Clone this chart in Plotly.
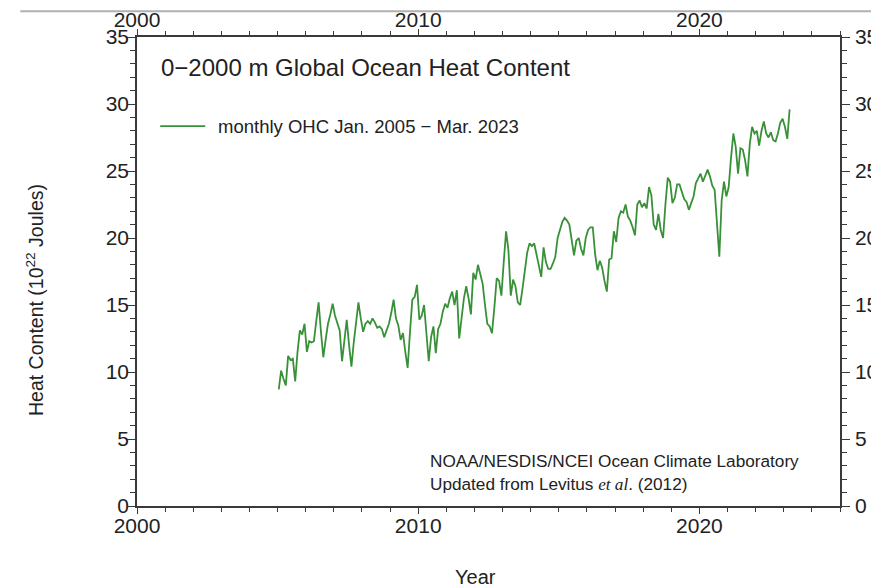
import plotly.graph_objects as go

start_year = 2005
ohc = [
    8.7, 10.1, 9.5, 9.0, 11.2, 10.9, 11.0, 9.3, 11.5, 13.1, 12.8, 13.6,
    11.5, 12.3, 12.2, 12.3, 13.8, 15.2, 13.0, 11.1, 12.4, 13.6, 14.3, 15.1,
    14.2, 13.6, 13.1, 10.8, 12.3, 13.9, 12.0, 10.4, 12.2, 13.8, 15.2, 14.0,
    13.0, 13.6, 13.8, 13.6, 14.0, 13.7, 13.3, 13.4, 13.2, 12.6, 13.1, 13.6,
    14.4, 15.4, 14.0, 13.5, 12.4, 12.9, 11.5, 10.3, 13.0, 15.4, 15.6, 16.5,
    13.9, 14.2, 15.0, 12.8, 10.8, 12.6, 13.4, 11.4, 13.2, 13.6, 14.5, 15.1,
    14.8, 15.5, 16.0, 15.0, 16.1, 12.5, 14.2, 15.5, 16.4, 15.5, 14.3, 17.4,
    16.9, 18.0, 17.3, 16.6, 15.0, 13.6, 13.4, 12.9, 14.8, 17.0, 16.8, 15.7,
    18.2, 20.5, 19.1, 15.7, 16.9, 16.4, 15.2, 15.0, 16.2, 17.8, 18.9, 19.6,
    19.4, 19.6, 18.8, 18.0, 17.1, 19.3, 18.2, 17.7, 17.7, 18.1, 18.6, 20.0,
    20.7, 21.2, 21.5, 21.3, 21.0, 19.8, 18.7, 19.8, 20.0, 19.2, 18.7, 20.0,
    20.6, 20.8, 20.8, 18.8, 17.6, 18.3, 17.8, 16.8, 16.0, 18.4, 18.5, 20.5,
    19.7, 21.5, 22.0, 21.9, 22.5, 21.6, 21.3, 20.8, 20.2, 22.5, 22.8, 22.3,
    22.6, 22.2, 23.8, 23.2, 21.0, 20.6, 21.8, 20.6, 20.0, 22.5, 24.5, 24.2,
    22.6, 23.0, 24.0, 24.0, 23.4, 22.9, 22.7, 22.1, 22.6, 23.1, 24.1, 24.5,
    24.8, 24.2, 24.6, 25.1, 24.6, 23.9, 23.6, 21.0, 18.6, 22.8, 24.2, 23.1,
    23.8, 26.0, 27.8, 26.8, 24.8, 26.7, 26.6, 25.8, 24.6, 27.0, 28.3, 27.8,
    28.0, 26.9, 28.0, 28.7, 27.8, 27.5, 27.9, 27.3, 27.2, 27.8, 28.6, 28.9,
    28.3, 27.4, 29.6,
]
years = [start_year + (i + 0.5) / 12 for i in range(len(ohc))]

x_range = [2000, 2025]
y_range = [0, 35]
x_ticks = [2000, 2010, 2020]
y_ticks = [0, 5, 10, 15, 20, 25, 30, 35]

title_text = "0\u22122000 m Global Ocean Heat Content"
legend_text = "monthly OHC Jan. 2005 \u2212 Mar. 2023"
credit_line1 = "NOAA/NESDIS/NCEI Ocean Climate Laboratory"
credit_line2 = ("Updated from Levitus <span style=\"font-family:'Liberation Serif'\"><i>et al</i></span>. (2012)")

FONT = "Liberation Sans, Arial, Helvetica, sans-serif"
AX = "#3a3a3a"
TXT = "#222222"
GREEN = "rgb(56,145,56)"

fig = go.Figure()
fig.add_trace(go.Scatter(x=years, y=ohc, mode="lines",
                         line=dict(color=GREEN, width=1.8),
                         showlegend=False, hoverinfo="skip"))
# invisible trace to activate the mirrored top/right axes
fig.add_trace(go.Scatter(x=x_range, y=y_range, xaxis="x2", yaxis="y2",
                         mode="markers", marker=dict(opacity=0),
                         showlegend=False, hoverinfo="skip"))

common_x = dict(range=x_range, tickvals=x_ticks, ticks="outside", ticklen=6,
                tickwidth=1.3, tickcolor=AX, showline=True, linecolor=AX,
                linewidth=1.5, showgrid=False, zeroline=False, automargin=False,
                tickfont=dict(family=FONT, size=21, color=TXT),
                minor=dict(dtick=1, ticks="outside", ticklen=4,
                           tickcolor=AX, tickwidth=1.2, showgrid=False))
common_y = dict(range=y_range, tickvals=y_ticks, ticks="outside", ticklen=8,
                tickwidth=1.3, tickcolor=AX, showline=True, linecolor=AX,
                linewidth=1.5, showgrid=False, zeroline=False, automargin=False,
                tickfont=dict(family=FONT, size=21, color=TXT),
                minor=dict(dtick=1, ticks="outside", ticklen=5,
                           tickcolor=AX, tickwidth=1.2, showgrid=False))

# the page places the figure 8 px from the top-left corner of the window
fig.update_layout(
    width=871, height=579,
    margin=dict(l=129, r=39, t=29, b=81),
    paper_bgcolor="white", plot_bgcolor="white",
    font=dict(family=FONT, color=TXT),
    xaxis=dict(**common_x, side="bottom", anchor="y", ticklabelstandoff=-6),
    yaxis=dict(**common_y, side="left", anchor="x", ticklabelstandoff=-6),
    xaxis2=dict(**common_x, side="top", overlaying="x", anchor="y",
                ticklabelstandoff=-6),
    yaxis2=dict(**common_y, side="right", overlaying="y", anchor="x",
                ticklabelstandoff=1),
)

fig.add_annotation(text=title_text, xref="paper", yref="paper",
                   x=0.031, y=0.935, xanchor="left", yanchor="middle",
                   showarrow=False, font=dict(family=FONT, size=24, color=TXT))
fig.add_shape(type="line", xref="paper", yref="paper",
              x0=0.033, x1=0.097, y0=0.81, y1=0.81,
              line=dict(color=GREEN, width=1.8))
fig.add_annotation(text=legend_text, xref="paper", yref="paper",
                   x=0.112, y=0.81, xanchor="left", yanchor="middle",
                   showarrow=False, font=dict(family=FONT, size=18.5, color=TXT))
fig.add_annotation(text=credit_line1, xref="paper", yref="paper",
                   x=0.414, y=0.096, xanchor="left", yanchor="middle",
                   showarrow=False, font=dict(family=FONT, size=17.2, color=TXT))
fig.add_annotation(text=credit_line2, xref="paper", yref="paper",
                   x=0.414, y=0.047, xanchor="left", yanchor="middle",
                   showarrow=False, font=dict(family=FONT, size=17.2, color=TXT))
fig.add_annotation(text="Heat Content (10<sup>22</sup> Joules)", xref="paper",
                   yref="paper", x=-0.146, y=0.44, textangle=-90,
                   xanchor="center", yanchor="middle", showarrow=False,
                   font=dict(family=FONT, size=19.5, color=TXT))
fig.add_annotation(text="Year", xref="paper", yref="paper",
                   x=0.482, y=-0.152, xanchor="center", yanchor="middle",
                   showarrow=False, font=dict(family=FONT, size=20, color=TXT))
# thin grey rule across the top of the page
fig.add_shape(type="line", xref="paper", yref="paper",
              x0=-0.166, x1=1.06, y0=1.055, y1=1.055,
              line=dict(color="#b0b0b0", width=2))

fig.write_html("out.html")
